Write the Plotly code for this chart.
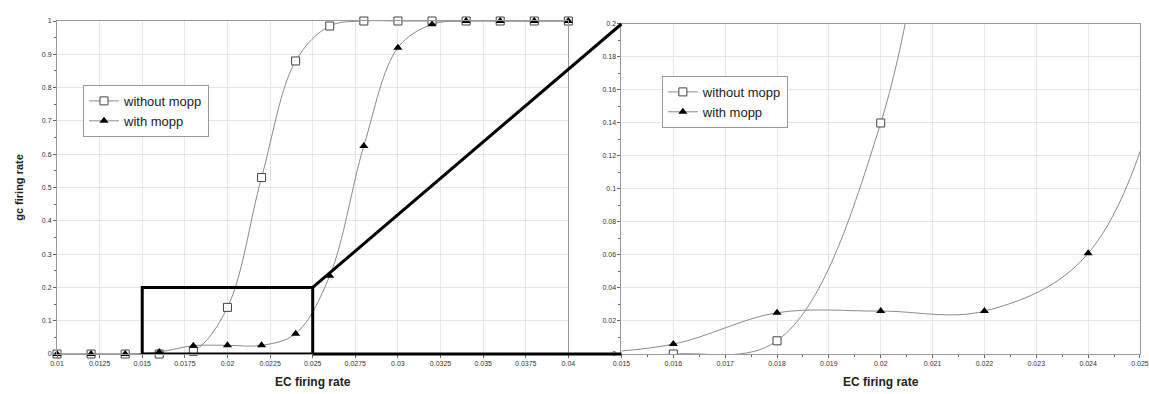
import plotly.graph_objects as go

# ---- data ----
ec_rate = [0.010, 0.012, 0.014, 0.016, 0.018, 0.020, 0.022, 0.024,
           0.026, 0.028, 0.030, 0.032, 0.034, 0.036, 0.038, 0.040]
without_mopp = [0, 0, 0, 0, 0.008, 0.14, 0.53, 0.88,
                0.985, 1, 1, 1, 1, 1, 1, 1]
with_mopp = [0, 0, 0, 0.006, 0.025, 0.026, 0.026, 0.061,
             0.235, 0.625, 0.92, 0.99, 1, 1, 1, 1]
series_names = ["without mopp", "with mopp"]

left_xticks = [0.01, 0.0125, 0.015, 0.0175, 0.02, 0.0225, 0.025, 0.0275,
               0.03, 0.0325, 0.035, 0.0375, 0.04]
left_xlabels = ["0.01", "0.0125", "0.015", "0.0175", "0.02", "0.0225", "0.025",
                "0.0275", "0.03", "0.0325", "0.035", "0.0375", "0.04"]
left_yticks = [0, 0.1, 0.2, 0.3, 0.4, 0.5, 0.6, 0.7, 0.8, 0.9, 1]
left_ylabels = ["0", "0.1", "0.2", "0.3", "0.4", "0.5", "0.6", "0.7", "0.8", "0.9", "1"]
right_xticks = [0.015, 0.016, 0.017, 0.018, 0.019, 0.020, 0.021, 0.022, 0.023, 0.024, 0.025]
right_xlabels = ["0.015", "0.016", "0.017", "0.018", "0.019", "0.02", "0.021",
                 "0.022", "0.023", "0.024", "0.025"]
right_yticks = [0, 0.02, 0.04, 0.06, 0.08, 0.1, 0.12, 0.14, 0.16, 0.18, 0.2]
right_ylabels = ["0", "0.02", "0.04", "0.06", "0.08", "0.1", "0.12", "0.14",
                 "0.16", "0.18", "0.2"]

# ---- layout geometry ----
W, H = 1149, 394
ML, MR, MT, MB = 57, 9, 21, 40
L_DOM = [0.0, 0.4722]
R_DOM = [0.5212, 1.0]
R_YDOM = [0.0, 0.991]
L_XR = [0.01, 0.04]
L_YR = [0, 1]
R_XR = [0.015, 0.025]
R_YR = [0, 0.2]
ZOOM_X = [0.015, 0.025]
ZOOM_Y = [0, 0.2]

LINE_C = "#8a8a8a"
GRID_C = "#e6e6e6"
AX_C = "#9a9a9a"
FAM = "Arial, Liberation Sans, sans-serif"
TICK_FONT = dict(family=FAM, size=7, color="#333")
TITLE_FONT = dict(family=FAM, size=12, color="#222")

fig = go.Figure()

sq_marker = dict(symbol="square", size=8, color="white", line=dict(color="#444", width=1))
tri_marker = dict(symbol="triangle-up", size=8, color="black", line=dict(color="black", width=0))

for xa, ya, leg, clip in [("x", "y", "legend", False), ("x2", "y2", "legend2", True)]:
    fig.add_trace(go.Scatter(x=ec_rate, y=without_mopp, name=series_names[0],
                             mode="lines+markers", line=dict(color=LINE_C, width=1, shape="spline"),
                             marker=sq_marker, xaxis=xa, yaxis=ya, legend=leg, cliponaxis=clip))
    fig.add_trace(go.Scatter(x=ec_rate, y=with_mopp, name=series_names[1],
                             mode="lines+markers", line=dict(color=LINE_C, width=1, shape="spline"),
                             marker=tri_marker, xaxis=xa, yaxis=ya, legend=leg, cliponaxis=clip))

def axis_common():
    return dict(showgrid=True, gridcolor=GRID_C, gridwidth=1, zeroline=False,
                showline=True, linecolor=AX_C, linewidth=1, mirror=True,
                ticks="outside", ticklen=3, tickcolor="#666", tickfont=TICK_FONT,
                title_font=TITLE_FONT, automargin=False)

fig.update_layout(
    width=W, height=H, margin=dict(l=ML, r=MR, t=MT, b=MB, autoexpand=False),
    paper_bgcolor="white", plot_bgcolor="white",
    xaxis=dict(domain=L_DOM, range=L_XR, tickmode="array", tickvals=left_xticks,
               ticktext=left_xlabels, title=dict(text="<b>EC firing rate</b>", standoff=11),
               anchor="y", **axis_common()),
    yaxis=dict(domain=[0, 1], range=L_YR, tickmode="array", tickvals=left_yticks,
               ticktext=left_ylabels,
               title=dict(text="<b>gc firing rate</b>", standoff=16, font=dict(family=FAM, size=11, color="#222")),
               anchor="x", minor=dict(ticks="outside", ticklen=2, dtick=0.05, showgrid=False, tickcolor="#666"),
               **{k: v for k, v in axis_common().items() if k != "title_font"}),
    xaxis2=dict(domain=R_DOM, range=R_XR, tickmode="array", tickvals=right_xticks,
                ticktext=right_xlabels, title=dict(text="<b>EC firing rate</b>", standoff=11),
                anchor="y2", minor=dict(ticks="outside", ticklen=2, dtick=0.0005, showgrid=False, tickcolor="#666"),
                **axis_common()),
    yaxis2=dict(domain=R_YDOM, range=R_YR, tickmode="array", tickvals=right_yticks,
                ticktext=right_ylabels, anchor="x2",
                minor=dict(ticks="outside", ticklen=2, dtick=0.01, showgrid=False, tickcolor="#666"),
                **axis_common()),
    legend=dict(x=0.024, y=0.808, xanchor="left", yanchor="top", bgcolor="white",
                bordercolor="#999", borderwidth=1,
                font=dict(family=FAM, size=13, color="#222"),
                tracegroupgap=0, itemwidth=30),
    legend2=dict(x=0.5585, y=0.835, xanchor="left", yanchor="top", bgcolor="white",
                 bordercolor="#999", borderwidth=1,
                 font=dict(family=FAM, size=13, color="#222"),
                 tracegroupgap=0, itemwidth=30),
    showlegend=True,
)

def px_l(v):
    return L_DOM[0] + (v - L_XR[0]) / (L_XR[1] - L_XR[0]) * (L_DOM[1] - L_DOM[0])

def py_l(v):
    return (v - L_YR[0]) / (L_YR[1] - L_YR[0])

def px_r(v):
    return R_DOM[0] + (v - R_XR[0]) / (R_XR[1] - R_XR[0]) * (R_DOM[1] - R_DOM[0])

def py_r(v):
    return R_YDOM[0] + (v - R_YR[0]) / (R_YR[1] - R_YR[0]) * (R_YDOM[1] - R_YDOM[0])

# zoom rectangle on the left panel
fig.add_shape(type="rect", xref="x", yref="y", x0=ZOOM_X[0], x1=ZOOM_X[1],
              y0=ZOOM_Y[0], y1=ZOOM_Y[1], line=dict(color="black", width=3))
# connector lines to the right panel
fig.add_shape(type="line", xref="paper", yref="paper",
              x0=px_l(ZOOM_X[1]), y0=py_l(ZOOM_Y[1]), x1=px_r(R_XR[0]), y1=py_r(R_YR[1]),
              line=dict(color="black", width=3))
fig.add_shape(type="line", xref="paper", yref="paper",
              x0=px_l(ZOOM_X[1]), y0=py_l(ZOOM_Y[0]), x1=px_r(R_XR[0]), y1=py_r(R_YR[0]),
              line=dict(color="black", width=3))

fig.write_html("out.html", config={"displayModeBar": False},
               post_script="document.body.style.margin='0';document.body.style.overflow='hidden';")
